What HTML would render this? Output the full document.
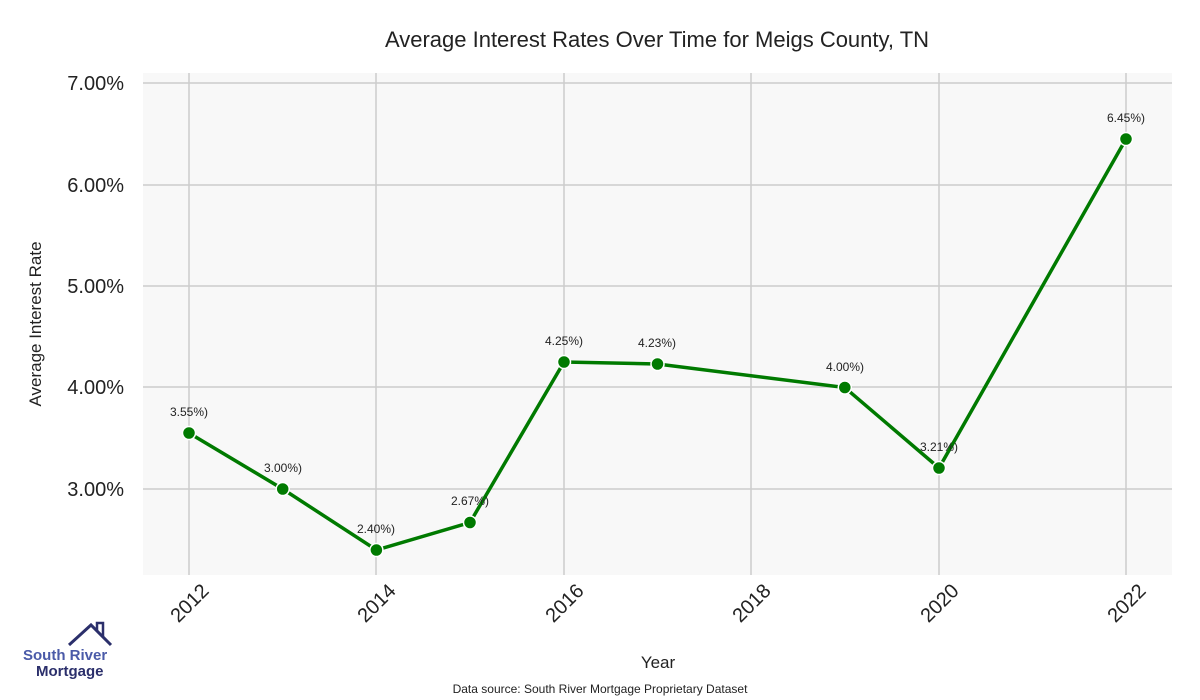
<!DOCTYPE html>
<html><head><meta charset="utf-8"><style>body{margin:0;background:#fff}svg{display:block}text{font-family:"Liberation Sans",sans-serif}</style></head><body>
<svg width="1200" height="700" viewBox="0 0 1200 700">
<rect x="143" y="73" width="1029" height="502" fill="#f8f8f8"/>
<g stroke="#cccccc" stroke-width="1.5">
<line x1="143" x2="1172" y1="83" y2="83"/><line x1="143" x2="1172" y1="185" y2="185"/><line x1="143" x2="1172" y1="286" y2="286"/><line x1="143" x2="1172" y1="387" y2="387"/><line x1="143" x2="1172" y1="489" y2="489"/>
<line x1="189" x2="189" y1="73" y2="575"/><line x1="376" x2="376" y1="73" y2="575"/><line x1="564" x2="564" y1="73" y2="575"/><line x1="751" x2="751" y1="73" y2="575"/><line x1="939" x2="939" y1="73" y2="575"/><line x1="1126" x2="1126" y1="73" y2="575"/>
</g>
<text x="657" y="47" text-anchor="middle" font-size="22" fill="#222">Average Interest Rates Over Time for Meigs County, TN</text>
<g font-size="20" fill="#222" text-anchor="end">
<text x="124" y="90">7.00%</text><text x="124" y="192">6.00%</text><text x="124" y="293">5.00%</text><text x="124" y="394">4.00%</text><text x="124" y="496">3.00%</text>
</g>
<text transform="translate(41,324) rotate(-90)" text-anchor="middle" font-size="17" fill="#222">Average Interest Rate</text>
<g font-size="20" fill="#222" text-anchor="end">
<text transform="translate(210,592) rotate(-45)">2012</text><text transform="translate(397,592) rotate(-45)">2014</text><text transform="translate(585,592) rotate(-45)">2016</text><text transform="translate(772,592) rotate(-45)">2018</text><text transform="translate(960,592) rotate(-45)">2020</text><text transform="translate(1147,592) rotate(-45)">2022</text>
</g>
<text x="658" y="668" text-anchor="middle" font-size="17" fill="#222">Year</text>
<text x="600" y="693" text-anchor="middle" font-size="12" fill="#222">Data source: South River Mortgage Proprietary Dataset</text>
<polyline fill="none" stroke="#007a00" stroke-width="3.5" points="189,433 282.7,489 376.4,550 470,522.5 564,362 657.5,364 844.8,387.5 939,468 1126,139"/>
<g fill="#007a00" stroke="#fff" stroke-width="1.5">
<circle cx="189" cy="433" r="6.5"/><circle cx="282.7" cy="489" r="6.5"/><circle cx="376.4" cy="550" r="6.5"/><circle cx="470" cy="522.5" r="6.5"/><circle cx="564" cy="362" r="6.5"/><circle cx="657.5" cy="364" r="6.5"/><circle cx="844.8" cy="387.5" r="6.5"/><circle cx="939" cy="468" r="6.5"/><circle cx="1126" cy="139" r="6.5"/>
</g>
<g font-size="12" fill="#222" text-anchor="middle">
<text x="189" y="416">3.55%)</text><text x="283" y="472">3.00%)</text><text x="376" y="533">2.40%)</text><text x="470" y="505">2.67%)</text><text x="564" y="345">4.25%)</text><text x="657" y="347">4.23%)</text><text x="845" y="371">4.00%)</text><text x="939" y="451">3.21%)</text><text x="1126" y="122">6.45%)</text>
</g>
<polyline fill="none" stroke="#2b2f6b" stroke-width="3" points="69,645 91,625 111,645"/>
<polyline fill="none" stroke="#2b2f6b" stroke-width="2.5" points="97,631 97,623 103,623 103,637"/>
<text x="23" y="660" font-size="15" font-weight="bold" fill="#4a5aa8">South River</text>
<text x="36" y="676" font-size="15" font-weight="bold" fill="#2b2f6b">Mortgage</text>
</svg>
</body></html>
